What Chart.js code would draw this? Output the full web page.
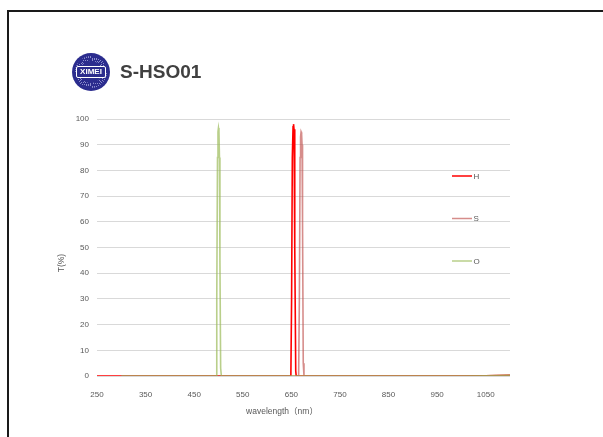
<!DOCTYPE html>
<html>
<head>
<meta charset="utf-8">
<script src="https://cdn.jsdelivr.net/npm/chart.js@4/dist/chart.umd.min.js"></script>
<style>
  html, body { margin: 0; padding: 0; background: #fff; }
  #wrap { position: relative; width: 603px; height: 437px; overflow: hidden; background: #fff; }
  #c { position: absolute; left: 0; top: 0; }
  #frame { position: absolute; left: 7px; top: 10px; width: 700px; height: 500px;
           border-top: 2px solid #1a1a1a; border-left: 2px solid #1a1a1a; pointer-events: none; }
  #logo { position: absolute; left: 72px; top: 53px; width: 38px; height: 38px; border-radius: 50%;
          background: #2b2c8e; }
  #logo .ring { position: absolute; left: 3px; top: 3px; width: 32px; height: 32px; border-radius: 50%;
          background: repeating-conic-gradient(from 0deg, #2b2c8e 0deg 6deg, #8c8dcc 6deg 8deg); }
  #logo .core { position: absolute; left: 8px; top: 8px; width: 22px; height: 22px; border-radius: 50%;
          background: #2b2c8e; }
  #logo .band { position: absolute; left: 4px; top: 13px; width: 28px; height: 10px;
          border: 1px solid #ffffff; border-radius: 2px; background: #2b2c8e;
          color: #fff; font: bold 8px "Liberation Sans", Arial, sans-serif; line-height: 10px;
          text-align: center; letter-spacing: 0px; }
  #title { position: absolute; left: 120px; top: 61px; font: bold 19px "Liberation Sans", Arial, sans-serif;
           color: #404040; line-height: 22px; white-space: nowrap; }
</style>
</head>
<body>
<div id="wrap">
  <canvas id="c" width="603" height="437"></canvas>
  <div id="logo"><div class="ring"></div><div class="core"></div><div class="band">XIMEI</div></div>
  <div id="title">S-HSO01</div>
  <div id="frame"></div>
</div>
<script>
// ---- data ----
const seriesNames = ["H", "S", "O"];
const xTickValues = [250, 350, 450, 550, 650, 750, 850, 950, 1050];
const yTickValues = [0, 10, 20, 30, 40, 50, 60, 70, 80, 90, 100];

const hWavelength = [250, 300, 400, 500, 600, 640, 649, 650.5, 652, 653.5, 654.5, 655.5, 656.5, 657.5, 659, 660, 700, 800, 900, 1000, 1050, 1075, 1100];
const hTransmit   = [0,   0,   0,   0,   0,   0,   0,   30,    85,  97,    98,    96,    88,    50,    2,   0,   0,   0,   0,   0,    0.1,  0.2,  0.25];

const sWavelength = [300, 400, 500, 600, 650, 665, 666.5, 668, 669, 670, 671, 672, 673, 674.5, 676, 700, 800, 900, 1000, 1050, 1075, 1100];
const sTransmit   = [0,   0,   0,   0,   0,   0,   30,    85,  93,  95,  94.5, 90, 60,  5,     0,   0,   0,   0,   0,    0.1,  0.2,  0.25];

const oWavelength = [300, 400, 480, 495, 496.5, 498, 499, 500, 501, 502, 503, 504.5, 506, 550, 650, 800, 900, 1000, 1050, 1075, 1100];
const oTransmit   = [0,   0,   0,   0,   30,    85,  95,  96.5, 95, 85,  45,  3,     0,   0,   0,   0,   0,   0,    0.1,  0.2,  0.25];

const seriesColors = ["#ff0000", "rgba(192,80,77,0.65)", "rgba(155,187,89,0.7)"];

function toPoints(xs, ys) { return xs.map((x, i) => ({ x: x, y: ys[i] })); }

const textPlugin = {
  id: 'textPlugin',
  afterDraw(chart) {
    const ctx = chart.ctx;
    ctx.save();
    ctx.fillStyle = '#595959';
    ctx.font = '8.5px "Liberation Sans", Arial, "Noto Sans CJK SC", sans-serif';
    ctx.textAlign = 'center';
    ctx.textBaseline = 'middle';
    ctx.fillText('wavelength（nm）', 282, 412);
    ctx.save();
    ctx.translate(62, 263);
    ctx.rotate(-Math.PI / 2);
    ctx.fillText('T(%)', 0, 0);
    ctx.restore();
    ctx.font = '8px "Liberation Sans", Arial, sans-serif';
    ctx.textAlign = 'left';
    const legendY = [176, 218.5, 261];
    chart.data.datasets.forEach((ds, i) => {
      const y = legendY[i];
      ctx.strokeStyle = ds.borderColor;
      ctx.lineWidth = 1.5;
      ctx.beginPath();
      ctx.moveTo(452, y);
      ctx.lineTo(472, y);
      ctx.stroke();
      ctx.fillStyle = '#595959';
      ctx.fillText(ds.label, 473.5, y + 0.5);
    });
    ctx.restore();
  }
};

new Chart(document.getElementById('c'), {
  type: 'line',
  data: {
    datasets: [
      { label: seriesNames[0], order: 2, data: toPoints(hWavelength, hTransmit), borderColor: seriesColors[0], borderWidth: 1.6, pointRadius: 0, tension: 0, fill: false },
      { label: seriesNames[1], order: 1, data: toPoints(sWavelength, sTransmit), borderColor: seriesColors[1], borderWidth: 1.6, pointRadius: 0, tension: 0, fill: false },
      { label: seriesNames[2], order: 0, data: toPoints(oWavelength, oTransmit), borderColor: seriesColors[2], borderWidth: 1.6, pointRadius: 0, tension: 0, fill: false }
    ]
  },
  options: {
    responsive: false,
    animation: false,
    layout: { padding: { left: 0, right: 93, top: 119, bottom: 0 } },
    plugins: { legend: { display: false }, tooltip: { enabled: false } },
    scales: {
      x: {
        type: 'linear', min: 250, max: 1100,
        afterBuildTicks: s => { s.ticks = xTickValues.map(v => ({ value: v })); },
        afterFit: s => { s.height = 61; },
        grid: { display: false },
        border: { display: false },
        ticks: { color: '#595959', font: { size: 8, family: '"Liberation Sans", Arial, sans-serif' }, padding: 6, maxRotation: 0, autoSkip: false, callback: v => String(v) }
      },
      y: {
        min: 0, max: 100,
        afterBuildTicks: s => { s.ticks = yTickValues.map(v => ({ value: v })); },
        afterFit: s => { s.width = 97; },
        grid: { color: '#d9d9d9', lineWidth: 1, drawTicks: false },
        border: { display: false },
        ticks: { color: '#595959', font: { size: 8, family: '"Liberation Sans", Arial, sans-serif' }, padding: 8, callback: v => String(v) }
      }
    }
  },
  plugins: [textPlugin]
});
</script>
</body>
</html>
